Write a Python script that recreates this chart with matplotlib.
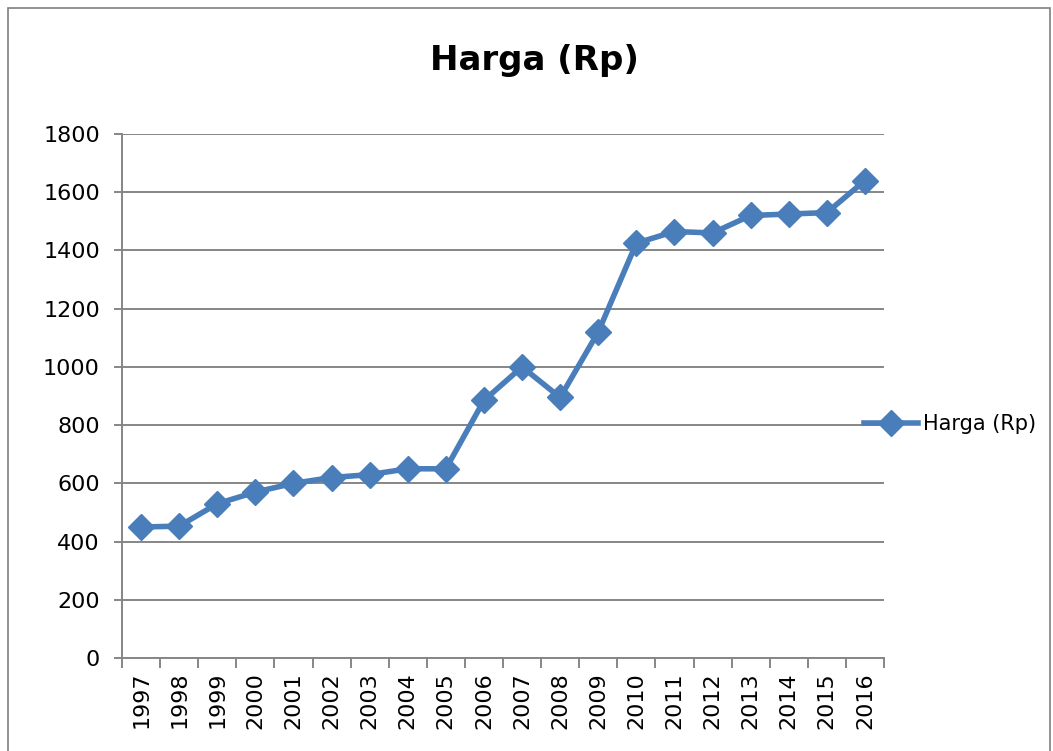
import matplotlib.pyplot as plt
from matplotlib.patches import Rectangle

years = [str(y) for y in range(1997, 2017)]
harga = [450, 453, 530, 570, 600, 620, 630, 650, 650, 885,
         1000, 895, 1120, 1425, 1465, 1460, 1520, 1525, 1530, 1640]
y_ticks = [0, 200, 400, 600, 800, 1000, 1200, 1400, 1600, 1800]

line_color = "#4A7EBB"
grid_color = "#868686"

fig = plt.figure(figsize=(10.53, 7.51), dpi=100)
ax = fig.add_axes([0.1159, 0.1238, 0.7236, 0.6978])

x = list(range(len(years)))
ax.plot(x, harga, color=line_color, linewidth=4, marker="D",
        markersize=13, label="Harga (Rp)", zorder=3)

ax.set_xlim(-0.5, len(years) - 0.5)
ax.set_ylim(0, 1800)
ax.set_yticks(y_ticks)
ax.set_yticklabels([str(v) for v in y_ticks], fontsize=16)
ax.yaxis.grid(True, color=grid_color, linewidth=1.4)
ax.set_axisbelow(True)

# category labels in the middle, tick marks on the boundaries
ax.set_xticks(x)
ax.set_xticklabels(years, rotation=90, fontsize=16)
ax.tick_params(axis="x", which="major", length=0, pad=10)
ax.set_xticks([i - 0.5 for i in range(len(years) + 1)], minor=True)
ax.tick_params(axis="x", which="minor", length=7, width=1.4, color=grid_color)
ax.tick_params(axis="y", length=6, width=1.4, color=grid_color, pad=10)

for side in ["top", "right"]:
    ax.spines[side].set_visible(False)
for side in ["left", "bottom"]:
    ax.spines[side].set_color(grid_color)
    ax.spines[side].set_linewidth(1.4)

fig.text(0.508, 0.92, "Harga (Rp)", ha="center", va="center",
         fontsize=24.5, fontweight="bold")

fig.legend(loc="center left", bbox_to_anchor=(0.803, 0.435), frameon=False,
           fontsize=15, handlelength=2.6, handletextpad=0.2)

# outer chart border
fig.patches.append(Rectangle((8 / 1053, -0.05), 1042 / 1053, 1.05 - 8 / 751,
                             transform=fig.transFigure, fill=False,
                             edgecolor="#7f7f7f", linewidth=1.2))

fig.savefig("out.png", dpi=100)
